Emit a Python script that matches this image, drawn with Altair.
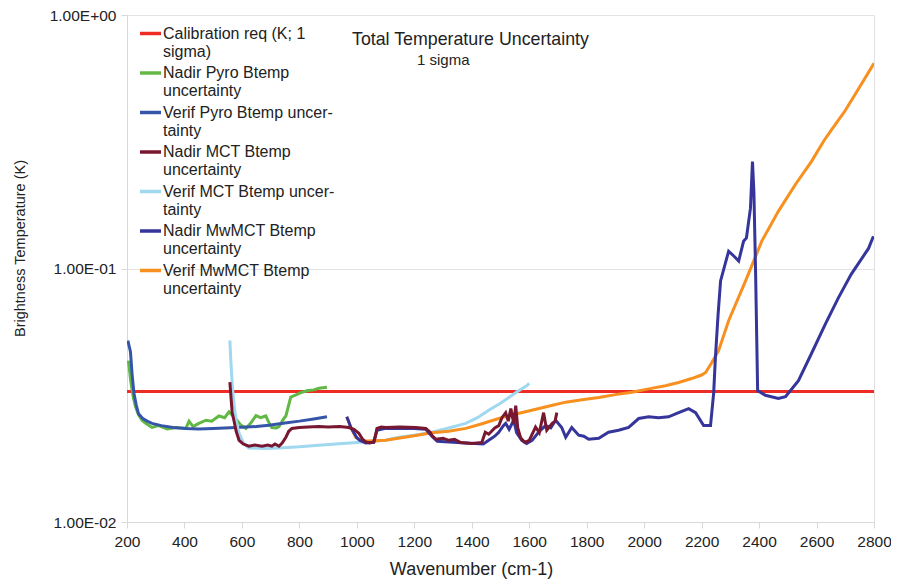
import altair as alt
import pandas as pd

# ---------------- data ----------------
series_names = [
    "Calibration req (K; 1|sigma)",
    "Nadir Pyro Btemp|uncertainty",
    "Verif Pyro Btemp uncer-|tainty",
    "Nadir MCT Btemp|uncertainty",
    "Verif MCT Btemp uncer-|tainty",
    "Nadir MwMCT Btemp|uncertainty",
    "Verif MwMCT Btemp|uncertainty",
]
series_colors = ["#ee2b25", "#62b845", "#3556a8", "#781830", "#9fd8ef", "#35359b", "#f7901e"]

cal_x = [200, 2800]
cal_y = [0.0327, 0.0327]

npyro_x = [205, 213, 222, 230, 240, 252, 265, 287, 310, 340, 370, 405, 416, 430, 450, 475, 495, 520,
           540, 555, 565, 579, 595, 614, 630, 649, 665, 683, 695, 704, 720, 729, 745, 753, 770, 790,
           809, 830, 850, 868, 896]
npyro_y = [0.0433, 0.036, 0.031, 0.0284, 0.0265, 0.0252, 0.0245, 0.0236, 0.0240, 0.0233, 0.0236,
           0.0234, 0.0250, 0.0238, 0.0245, 0.0252, 0.0250, 0.0262, 0.0258, 0.0272, 0.0265, 0.0255,
           0.0242, 0.0234, 0.0245, 0.0263, 0.0258, 0.0262, 0.0245, 0.0236, 0.0235, 0.0238, 0.0255,
           0.0262, 0.0311, 0.0318, 0.0325, 0.0330, 0.0332, 0.0337, 0.0340]

vpyro_x = [203, 212, 218, 224, 232, 240, 255, 270, 287, 320, 360, 405, 450, 500, 579, 650, 694, 750,
           800, 850, 896]
vpyro_y = [0.052, 0.047, 0.038, 0.0323, 0.029, 0.0267, 0.0256, 0.025, 0.0245, 0.024, 0.0236, 0.0234,
           0.0233, 0.0234, 0.0236, 0.0238, 0.0241, 0.0246, 0.025, 0.0255, 0.026]

nmct_x = [558, 562, 566, 572, 580, 590, 605, 624, 645, 670, 690, 704, 715, 729, 740, 753, 763, 774,
          800, 830, 868, 900, 940, 972, 990, 1007, 1020, 1031, 1045, 1059, 1065, 1070, 1085, 1101,
          1150, 1205, 1240, 1255, 1261, 1275, 1300, 1320, 1340, 1360, 1379, 1400, 1435, 1447, 1459,
          1480, 1494, 1505, 1518, 1527, 1536, 1546, 1553, 1560, 1570, 1585, 1600, 1622, 1635, 1650,
          1661, 1680, 1690, 1696]
nmct_y = [0.0356, 0.031, 0.027, 0.0252, 0.0228, 0.021, 0.0203, 0.0199, 0.0201, 0.0199, 0.0201,
          0.0199, 0.0203, 0.0199, 0.0205, 0.0216, 0.0228, 0.0234, 0.0236, 0.0237, 0.0238, 0.0237,
          0.0238, 0.0236, 0.0232, 0.0224, 0.0212, 0.0207, 0.0205, 0.0207, 0.0220, 0.0234, 0.0237,
          0.0236, 0.0237, 0.0236, 0.0234, 0.0226, 0.0220, 0.0212, 0.0214, 0.0210, 0.0212, 0.0206,
          0.0205, 0.0204, 0.0206, 0.0226, 0.0222, 0.0235, 0.0240, 0.0258, 0.0270, 0.0250, 0.0280,
          0.0245, 0.0288, 0.0235, 0.0215, 0.0206, 0.0210, 0.0237, 0.0225, 0.0270, 0.0230, 0.0245,
          0.0250, 0.0270]

vmct_x = [558, 562, 567, 572, 580, 590, 605, 624, 680, 729, 800, 868, 950, 1000, 1100, 1146, 1200,
          1261, 1320, 1379, 1420, 1459, 1500, 1529, 1560, 1591, 1600]
vmct_y = [0.052, 0.042, 0.034, 0.0294, 0.025, 0.0224, 0.0205, 0.0196, 0.0195, 0.0196, 0.0198,
          0.0201, 0.0204, 0.0206, 0.0210, 0.0216, 0.0220, 0.0226, 0.0235, 0.0245, 0.0258, 0.0276,
          0.0294, 0.031, 0.0328, 0.0345, 0.0352]

nmw_x = [965, 980, 1000, 1010, 1031, 1059, 1070, 1100, 1200, 1240, 1261, 1280, 1350, 1440, 1459, 1480,
         1494, 1510, 1518, 1530, 1546, 1556, 1574, 1591, 1610, 1635, 1657, 1675, 1692, 1713, 1727,
         1748, 1772, 1790, 1807, 1842, 1876, 1911, 1946, 1981, 2016, 2050, 2085, 2120, 2155, 2179,
         2207, 2231, 2242, 2248, 2257, 2266, 2294, 2312, 2329, 2346, 2356, 2370, 2377, 2382, 2388,
         2395, 2422, 2467, 2492, 2537, 2582, 2631, 2676, 2721, 2781, 2798]
nmw_y = [0.026, 0.0235, 0.0215, 0.021, 0.0205, 0.0206, 0.023, 0.0234, 0.0234, 0.0232, 0.0218, 0.0208,
         0.0206, 0.0203, 0.0210, 0.0218, 0.0226, 0.0240, 0.0245, 0.0232, 0.0252, 0.0225, 0.0210,
         0.0204, 0.0210, 0.0228, 0.0240, 0.0235, 0.0252, 0.0236, 0.0216, 0.0236, 0.0220, 0.0218,
         0.0212, 0.0214, 0.0226, 0.0230, 0.0236, 0.0256, 0.0260, 0.0258, 0.0260, 0.0270, 0.0280,
         0.0270, 0.0240, 0.0240, 0.0323, 0.0445, 0.065, 0.0893, 0.117, 0.112, 0.107, 0.128, 0.132,
         0.173, 0.264, 0.20, 0.095, 0.033, 0.0316, 0.0307, 0.0312, 0.0361, 0.0461, 0.0605, 0.0766,
         0.095, 0.120, 0.134]

vmw_x = [965, 980, 996, 1020, 1100, 1200, 1261, 1320, 1379, 1430, 1494, 1550, 1609, 1670, 1727, 1790,
         1842, 1900, 1957, 2016, 2074, 2120, 2165, 2200, 2214, 2235, 2259, 2294, 2353, 2409, 2467,
         2527, 2582, 2624, 2650, 2700, 2750, 2800]
vmw_y = [0.026, 0.0235, 0.0216, 0.0208, 0.021, 0.0219, 0.0225, 0.0228, 0.0234, 0.0243, 0.0256,
         0.0266, 0.0276, 0.0287, 0.0297, 0.0304, 0.031, 0.0318, 0.0325, 0.0335, 0.0345, 0.0355,
         0.0368, 0.038, 0.0389, 0.0425, 0.0474, 0.0622, 0.0893, 0.128, 0.168, 0.215, 0.264, 0.317,
         0.35, 0.42, 0.52, 0.645]

x_ticks = list(range(200, 2801, 200))
y_ticks = [0.01, 0.1, 1.0]
y_tick_labels = ["1.00E-02", "1.00E-01", "1.00E+00"]

title_lines = ["Total Temperature Uncertainty", "1 sigma"]

# ---------------- build table (draw order: dark red over indigo) ----------------
draw_order = [
    (0, cal_x, cal_y), (1, npyro_x, npyro_y), (2, vpyro_x, vpyro_y), (4, vmct_x, vmct_y),
    (6, vmw_x, vmw_y), (5, nmw_x, nmw_y), (3, nmct_x, nmct_y),
]
frames = []
for idx, xs, ys in draw_order:
    frames.append(pd.DataFrame({"wn": xs, "bt": ys, "series": series_names[idx]}))
df = pd.concat(frames, ignore_index=True)

font = "Liberation Sans"

lab_expr = ("datum.value >= 0.5 ? '%s' : datum.value >= 0.05 ? '%s' : '%s'"
            % (y_tick_labels[2], y_tick_labels[1], y_tick_labels[0]))

lines = alt.Chart(df).mark_line(strokeWidth=3, clip=True).encode(
    x=alt.X("wn:Q", scale=alt.Scale(domain=[200, 2800], nice=False),
            axis=alt.Axis(values=x_ticks, format="d", labelOverlap=False, labelFlush=False,
                          grid=False, title="Wavenumber (cm-1)",
                          labelFontSize=15.5, titleFontSize=18, labelPadding=6, tickSize=6,
                          titlePadding=11, titleX=344, titleAlign="center",
                          labelColor="#222", titleColor="#222", titleFontWeight="normal",
                          domainColor="#d8d8d8", tickColor="#d8d8d8")),
    y=alt.Y("bt:Q", scale=alt.Scale(type="log", domain=[0.01, 1], nice=False),
            axis=alt.Axis(values=y_ticks, labelExpr=lab_expr, grid=True, gridColor="#e3e3e3",
                          title="Brightness Temperature (K)", labelFontSize=15.5, titleFontSize=14.5,
                          labelPadding=5, tickSize=6, titleX=-107, titleY=233,
                          titleBaseline="middle", titleAlign="center", titleAngle=270,
                          labelColor="#222", titleColor="#222", titleFontWeight="normal",
                          domainColor="#d8d8d8", tickColor="#d8d8d8")),
    color=alt.Color("series:N", scale=alt.Scale(domain=series_names, range=series_colors),
                    legend=alt.Legend(title=None, orient="none", legendX=11, legendY=6,
                                      symbolType="stroke", symbolStrokeWidth=3.5, symbolSize=441,
                                      labelFontSize=16, labelLimit=400, labelColor="#222",
                                      labelExpr="split(datum.label, '|')", rowPadding=0.5,
                                      labelOffset=0, padding=0)),
)

t1 = alt.Chart(pd.DataFrame({"t": [title_lines[0]]})).mark_text(
    align="left", baseline="middle", fontSize=17.8, font=font, color="#222"
).encode(text="t:N", x=alt.value(225), y=alt.value(25))
t2 = alt.Chart(pd.DataFrame({"t": [title_lines[1]]})).mark_text(
    align="left", baseline="middle", fontSize=15, font=font, color="#222"
).encode(text="t:N", x=alt.value(290), y=alt.value(45))

chart = alt.layer(lines, t1, t2).properties(
    width=747, height=507,
    autosize=alt.AutoSizeParams(type="none"),
    padding={"left": 119, "top": 7, "right": 17, "bottom": 58},
    background="white",
).configure(font=font).configure_view(stroke="#e0e0e0")

chart.save("out.html", embed_options={"renderer": "svg", "actions": False})
